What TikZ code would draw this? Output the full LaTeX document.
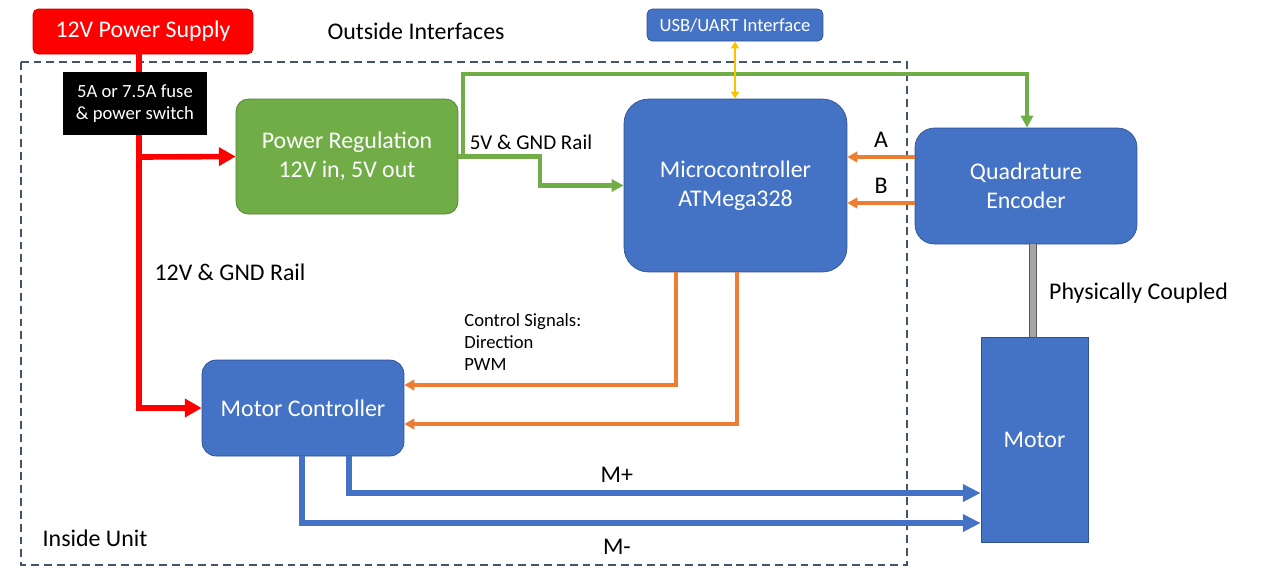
\documentclass[tikz,border=0pt]{standalone}
\usepackage{fontspec}
\setmainfont{Carlito}
\usepackage{tikz}
\usetikzlibrary{arrows.meta,positioning}

\begin{document}
\begin{tikzpicture}[x=0.02cm,y=-0.02cm]
\definecolor{unitBlue}{RGB}{68,114,196}
\definecolor{unitEdge}{RGB}{47,82,143}
\definecolor{regGreen}{RGB}{112,173,71}
\definecolor{regEdge}{RGB}{80,126,50}
\definecolor{sigOrange}{RGB}{237,125,49}
\definecolor{usbYellow}{RGB}{255,192,0}
\definecolor{boxDash}{RGB}{68,84,106}
\definecolor{shaftGray}{RGB}{165,165,165}
\tikzset{
  bigfont/.style={font=\fontsize{13.6}{16.4}\selectfont},
  midfont/.style={font=\fontsize{12}{14}\selectfont},
  smallfont/.style={font=\fontsize{10.6}{12.5}\selectfont},
  blk/.style={draw=unitEdge, fill=unitBlue, text=white, align=center, inner sep=0pt, bigfont},
  pwrline/.style={-{Triangle[length=9.6pt,width=10.2pt]}, color=red, line width=3.2pt},
  railline/.style={-{Triangle[length=6.8pt,width=6.8pt]}, color=regGreen, line width=2.3pt},
  sigline/.style={-{Triangle[length=5.7pt,width=6pt]}, color=sigOrange, line width=2.3pt},
  motline/.style={-{Triangle[length=10.2pt,width=9.6pt]}, color=unitBlue, line width=3.4pt},
  usbline/.style={{Triangle[length=4pt,width=4.5pt]}-{Triangle[length=4pt,width=4.5pt]}, color=usbYellow, line width=1.4pt}
}
\useasboundingbox (0,0) rectangle (1280,583);
% inside unit border
\draw[color=boxDash, line width=1.1pt, dash pattern=on 4.5pt off 2.8pt] (21,62) rectangle (907,565);
\node[bigfont] (outside) at (416,31) {Outside Interfaces};
\node[bigfont] (inside) at (95,538) {Inside Unit};
% blocks
\node[draw=red!80!black, fill=red, text=white, rounded corners=3pt, minimum width=4.4cm, minimum height=0.9cm, inner sep=0pt, bigfont] (psu) at (143,31.5) {12V Power Supply};
\node[draw=regEdge, fill=regGreen, text=white, rounded corners=7pt, minimum width=4.44cm, minimum height=2.3cm, inner sep=0pt, align=center, bigfont] (preg) at (347,156.5) {Power Regulation\\12V in, 5V out};
\node[blk, rounded corners=14pt, minimum width=4.46cm, minimum height=3.46cm] (mcu) at (735.5,185.5) {Microcontroller\\ATMega328};
\node[blk, rounded corners=3pt, minimum width=3.52cm, minimum height=0.64cm, smallfont] (usb) at (735,25) {USB/UART Interface};
\node[blk, rounded corners=11pt, minimum width=4.44cm, minimum height=2.32cm] (enc) at (1026,186) {Quadrature\\Encoder};
\node[blk, minimum width=2.14cm, minimum height=4.1cm] (motor) at (1034.5,439.5) {Motor};
\node[blk, rounded corners=8pt, minimum width=4.04cm, minimum height=1.92cm] (mctl) at (303,408) {Motor Controller};
% power rails
\draw[pwrline] (psu.south -| 139,0) |- (mctl.west);
\draw[pwrline] (139,157) -- (preg.west);
\node[fill=black, text=white, minimum width=2.88cm, minimum height=1.26cm, inner sep=0pt, align=center, smallfont] (fuse) at (135,103.5) {5A or 7.5A fuse\\\& power switch};
\node[bigfont] (rail12) at (230,272) {12V \& GND Rail};
\draw[railline] (preg.east) -- ++(82,0) |- (mcu.west);
\draw[railline] (463,157) -- (463,74) -| (enc.north -| 1027,0);
\node[midfont] (rail5) at (531,142) {5V \& GND Rail};
\draw[usbline] (usb.south) -- (usb.south |- mcu.north);
% signals
\draw[sigline] (enc.west |- 0,157) -- (mcu.east |- 0,157) node[midway, above=1pt, bigfont, color=black] {A};
\draw[sigline] (enc.west |- 0,203) -- (mcu.east |- 0,203) node[midway, above=1pt, bigfont, color=black] {B};
\draw[sigline] (mcu.south -| 676,0) |- (mctl.east |- 0,385);
\draw[sigline] (mcu.south -| 737,0) |- (mctl.east |- 0,424);
\node[anchor=north west, align=left, inner sep=0pt, smallfont] (ctrl) at (464,313) {Control Signals:\\Direction\\PWM};
% motor leads
\draw[motline] (mctl.south -| 349,0) |- (motor.west |- 0,493) node[pos=0.712, above=1pt, bigfont, color=black] {M+};
\draw[motline] (mctl.south -| 302,0) |- (motor.west |- 0,523) node[pos=0.732, below=4pt, bigfont, color=black] {M-};
% shaft
\draw[draw=gray!70!black, double=shaftGray, double distance=3.6pt, line width=0.4pt] (motor.north -| 1033,0) -- (enc.south -| 1033,0);
\node[bigfont, anchor=west] (coupled) at (1043,293) {Physically Coupled};
\end{tikzpicture}
\end{document}
